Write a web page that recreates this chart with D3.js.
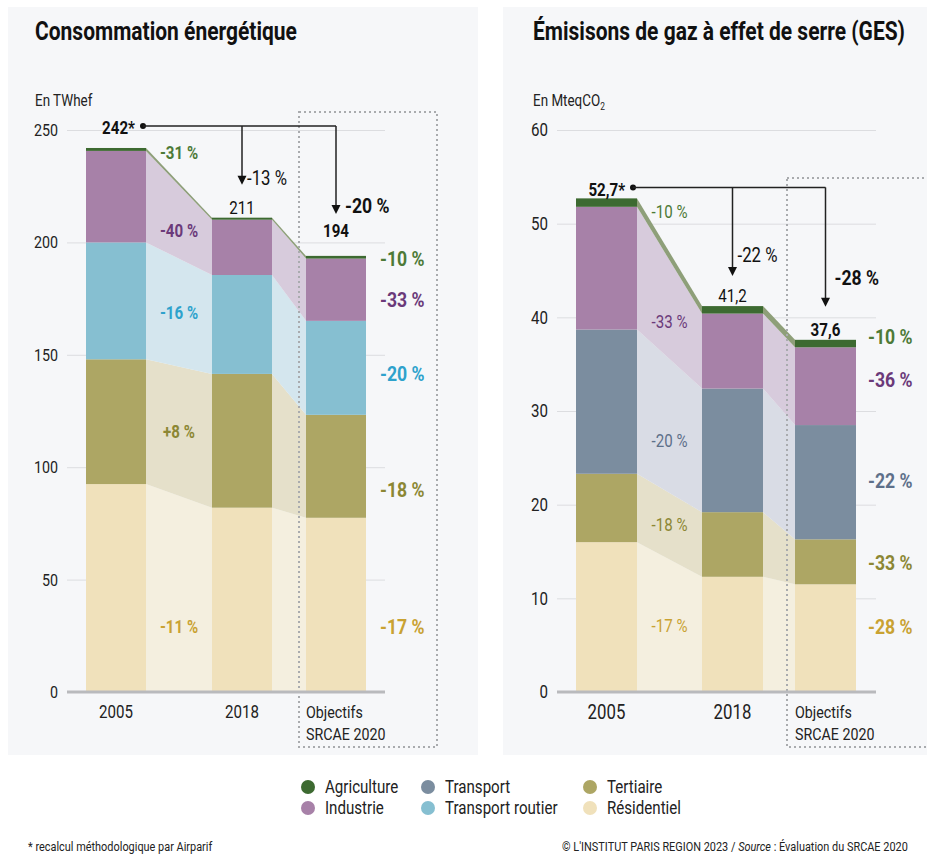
<!DOCTYPE html>
<html lang="fr">
<head>
<meta charset="utf-8">
<script src="https://cdn.jsdelivr.net/npm/d3@7"></script>
<style>
  body { margin: 0; background: #ffffff; }
  svg text { font-family: "Roboto", "Liberation Sans", sans-serif; }
</style>
</head>
<body>
<svg id="chart" width="927" height="856"></svg>
<script>
// ---- Data -------------------------------------------------------------
const periods = ["2005", "2018", "Objectifs SRCAE 2020"];

// Energy consumption (TWhef), stacked bottom-up
const energySectors = ["Résidentiel", "Tertiaire", "Transport routier", "Industrie", "Agriculture"];
const energyResidentiel      = [92.5, 82.0, 77.5];
const energyTertiaire        = [55.5, 59.5, 45.8];
const energyTransportRoutier = [52.0, 44.0, 41.8];
const energyIndustrie        = [40.7, 24.6, 27.7];
const energyAgriculture      = [1.3, 0.9, 1.2];
const energyTicks = [0, 50, 100, 150, 200, 250];
const energyShiftLabels  = ["-11 %", "+8 %", "-16 %", "-40 %", "-31 %"];
const energyTargetLabels = ["-17 %", "-18 %", "-20 %", "-33 %", "-10 %"];
const energyTotalChange  = ["-13 %", "-20 %"];

// Greenhouse gas emissions (MteqCO2), stacked bottom-up
const gesSectors = ["Résidentiel", "Tertiaire", "Transport", "Industrie", "Agriculture"];
const gesResidentiel = [16.0, 12.3, 11.5];
const gesTertiaire   = [7.3, 6.9, 4.8];
const gesTransport   = [15.4, 13.2, 12.2];
const gesIndustrie   = [13.1, 8.0, 8.3];
const gesAgriculture = [0.9, 0.8, 0.8];
const gesTicks = [0, 10, 20, 30, 40, 50, 60];
const gesShiftLabels  = ["-17 %", "-18 %", "-20 %", "-33 %", "-10 %"];
const gesTargetLabels = ["-28 %", "-33 %", "-22 %", "-36 %", "-10 %"];
const gesTotalChange  = ["-22 %", "-28 %"];

const legendItems = ["Agriculture", "Industrie", "Transport", "Transport routier", "Tertiaire", "Résidentiel"];

// ---- Styles -----------------------------------------------------------
const sectorColor = {
  "Agriculture": "#3d6a31",
  "Industrie": "#a781a8",
  "Transport": "#7b8d9f",
  "Transport routier": "#86bfd1",
  "Tertiaire": "#ada664",
  "Résidentiel": "#f0e1bb"
};
const bandColor = {
  "Agriculture": "#8e9f79",
  "Industrie": "#d7cbdc",
  "Transport": "#d9dce5",
  "Transport routier": "#d4e6ee",
  "Tertiaire": "#e5e0ca",
  "Résidentiel": "#f4efdf"
};
const labelColor = {
  "Agriculture": "#4d7a37",
  "Industrie": "#6b3a7a",
  "Transport": "#5e708a",
  "Transport routier": "#2ea2cc",
  "Tertiaire": "#8c8734",
  "Résidentiel": "#c9a232"
};
// horizontal squeeze giving the condensed lettering
const CONDENSE = 0.84;

const frNum = d3.formatLocale({ decimal: ",", thousands: " ", grouping: [3], currency: ["", " €"] });

const svg = d3.select("#chart");

// light panels behind each chart
svg.append("rect").attr("x", 8).attr("y", 7).attr("width", 470).attr("height", 748).attr("fill", "#f6f7f9");
svg.append("rect").attr("x", 503).attr("y", 7).attr("width", 424).attr("height", 748).attr("fill", "#f6f7f9");

function drawChart(cfg) {
  const g = svg.append("g");
  const y = d3.scaleLinear().domain([0, cfg.max]).range([692, 130]);
  const x = d3.scaleOrdinal().domain(periods).range(cfg.barX);
  const bw = cfg.barWidth;

  const rows = periods.map((p, i) => {
    const r = { period: p };
    cfg.sectors.forEach((s, j) => { r[s] = cfg.values[j][i]; });
    return r;
  });
  const layers = d3.stack().keys(cfg.sectors)(rows);

  // title and unit
  g.append("text").attr("x", cfg.left).attr("y", 40)
    .attr("font-size", cfg.titleSize).attr("font-weight", "bold").attr("fill", "#111").text(cfg.title);
  const unit = g.append("text").attr("x", cfg.left).attr("y", 106)
    .attr("font-size", 16).attr("fill", "#222").text(cfg.unit);
  if (cfg.unitSub) unit.append("tspan").attr("font-size", 10).attr("dy", 4).text(cfg.unitSub);

  // gridlines + tick labels
  const axis = g.append("g").attr("transform", `translate(${cfg.gridX0},0)`)
    .call(d3.axisLeft(y).tickValues(cfg.ticks).tickSize(-(cfg.gridX1 - cfg.gridX0)).tickPadding(9).tickFormat(d3.format("d")));
  axis.select(".domain").remove();
  axis.selectAll(".tick line").attr("stroke", "#dcdde0").attr("stroke-width", 1);
  axis.selectAll(".tick text").attr("font-size", cfg.tickSize).attr("fill", "#222");

  // connecting bands between consecutive bars
  const band = d3.area()
    .x(d => d.x)
    .y0(d => y(d.v0))
    .y1(d => y(d.v1));
  layers.forEach(layer => {
    for (let i = 0; i < periods.length - 1; i++) {
      const a = layer[i], b = layer[i + 1];
      g.append("path")
        .attr("d", band([
          { x: x(periods[i]) + bw, v0: a[0], v1: a[1] },
          { x: x(periods[i + 1]), v0: b[0], v1: b[1] }
        ]))
        .attr("fill", bandColor[layer.key]);
    }
  });

  // dotted frame around the target column
  g.append("rect")
    .attr("x", cfg.box[0]).attr("y", cfg.box[1]).attr("width", cfg.box[2]).attr("height", cfg.box[3])
    .attr("fill", "none").attr("stroke", "#a9abae").attr("stroke-width", 2).attr("stroke-dasharray", "2 3");

  // stacked bars
  layers.forEach(layer => {
    g.selectAll(null).data(layer).enter().append("rect")
      .attr("x", d => x(d.data.period))
      .attr("width", bw)
      .attr("y", d => y(d[1]))
      .attr("height", d => y(d[0]) - y(d[1]))
      .attr("fill", sectorColor[layer.key]);
  });

  // baseline
  g.append("line").attr("x1", cfg.gridX0).attr("x2", cfg.gridX1).attr("y1", y(0)).attr("y2", y(0))
    .attr("stroke", "#b9babd").attr("stroke-width", 3);

  // x labels
  periods.forEach((p, i) => {
    if (i < 2) {
      g.append("text").attr("x", x(p) + bw / 2).attr("y", 712).attr("dy", "0.35em")
        .attr("text-anchor", "middle").attr("font-size", cfg.xSize).attr("fill", "#222").text(p);
    } else {
      const t = g.append("text").attr("x", x(p)).attr("font-size", cfg.objSize).attr("fill", "#222");
      t.append("tspan").attr("x", x(p)).attr("y", 718).text("Objectifs");
      t.append("tspan").attr("x", x(p)).attr("y", 740).text("SRCAE 2020");
    }
  });

  // sector change labels in the 2005-2018 bands
  const midX = (x(periods[0]) + bw + x(periods[1])) / 2;
  layers.forEach((layer, j) => {
    const a = layer[0], b = layer[1];
    const ym = (y((a[0] + b[0]) / 2) + y((a[1] + b[1]) / 2)) / 2 + cfg.shiftNudge[j];
    g.append("text").attr("x", midX).attr("y", ym).attr("dy", "0.35em").attr("text-anchor", "middle")
      .attr("font-size", cfg.shiftSize).attr("font-weight", cfg.shiftWeight)
      .attr("fill", labelColor[layer.key]).text(cfg.shiftLabels[j]);
  });

  // sector change labels beside the target bar
  layers.forEach((layer, j) => {
    const c = layer[2];
    const ym = y((c[0] + c[1]) / 2) + cfg.targetNudge[j];
    g.append("text").attr("x", cfg.targetX).attr("y", ym).attr("dy", "0.35em")
      .attr("font-size", cfg.targetSize).attr("font-weight", "bold")
      .attr("fill", labelColor[layer.key]).text(cfg.targetLabels[j]);
  });

  // totals and overall change arrows
  const totals = rows.map(r => d3.sum(cfg.sectors, s => r[s]));
  const fmt = frNum.format(cfg.totalFormat);
  const c1 = x(periods[1]) + bw / 2, c2 = x(periods[2]) + bw / 2;
  const lineY = y(totals[0]) - cfg.lineGap;
  const dotX = cfg.dotX;

  g.append("text").attr("x", dotX - 8).attr("y", lineY + 2).attr("dy", "0.35em").attr("text-anchor", "end")
    .attr("font-size", 18).attr("font-weight", "bold").attr("fill", "#111").text(fmt(totals[0]) + "*");
  g.append("circle").attr("cx", dotX).attr("cy", lineY).attr("r", 3).attr("fill", "#111");
  g.append("path").attr("d", `M${dotX},${lineY}H${c2}`).attr("stroke", "#222").attr("stroke-width", 1.5).attr("fill", "none");

  [[c1, 1], [c2, 2]].forEach(([cx, i]) => {
    const tip = y(totals[i]) - cfg.tipGap[i - 1];
    g.append("path").attr("d", `M${cx},${lineY}V${tip - 8}`).attr("stroke", "#222").attr("stroke-width", 1.5).attr("fill", "none");
    g.append("path").attr("d", `M${cx - 4.5},${tip - 9}L${cx + 4.5},${tip - 9}L${cx},${tip}Z`).attr("fill", "#111");
    const bold = i === 2;
    g.append("text").attr("x", cx + (bold ? 9 : 5)).attr("y", tip + cfg.changeDy[i - 1]).attr("dy", "0.35em")
      .attr("font-size", bold ? 21 : 20).attr("font-weight", bold ? "bold" : "normal").attr("fill", "#111")
      .text(cfg.totalChange[i - 1]);
    g.append("text").attr("x", cx).attr("y", y(totals[i]) - cfg.totalGap[i - 1]).attr("dy", "0.35em")
      .attr("text-anchor", "middle").attr("font-size", 18).attr("font-weight", bold ? "bold" : "normal")
      .attr("fill", "#111").text(fmt(totals[i]));
  });
}

drawChart({
  title: "Consommation énergétique",
  titleSize: 25,
  unit: "En TWhef",
  left: 35,
  max: 250,
  ticks: energyTicks,
  sectors: energySectors,
  values: [energyResidentiel, energyTertiaire, energyTransportRoutier, energyIndustrie, energyAgriculture],
  barX: [86, 212, 306],
  barWidth: 60,
  gridX0: 67, gridX1: 385,
  box: [299, 112, 138, 635],
  tickSize: 17, xSize: 18, objSize: 17,
  shiftLabels: energyShiftLabels, shiftNudge: [33, 0, 0, 9, -31], shiftSize: 18, shiftWeight: "bold",
  targetLabels: energyTargetLabels, targetNudge: [22, 23, 6, 10, 1], targetX: 380, targetSize: 21,
  totalChange: energyTotalChange,
  totalFormat: ".0f",
  dotX: 143, lineGap: 22,
  tipGap: [33, 42], changeDy: [-7, -8], totalGap: [10, 25]
});

drawChart({
  title: "Émisisons de gaz à effet de serre (GES)",
  titleSize: 25,
  unit: "En MteqCO",
  unitSub: "2",
  left: 533,
  max: 60,
  ticks: gesTicks,
  sectors: gesSectors,
  values: [gesResidentiel, gesTertiaire, gesTransport, gesIndustrie, gesAgriculture],
  barX: [576, 702, 795],
  barWidth: 61,
  gridX0: 557, gridX1: 876,
  box: [787, 178, 150, 569],
  tickSize: 18, xSize: 20, objSize: 17,
  shiftLabels: gesShiftLabels, shiftNudge: [0, -2, 15, 12, -45], shiftSize: 18, shiftWeight: "normal",
  targetLabels: gesTargetLabels, targetNudge: [-11, 1, -2, -7, -7], targetX: 868, targetSize: 21,
  totalChange: gesTotalChange,
  totalFormat: ".1f",
  dotX: 633, lineGap: 11,
  tipGap: [30, 33], changeDy: [-21, -29], totalGap: [10, 10]
});

// legend
const legendPos = [[308, 787], [308, 808], [428, 787], [428, 808], [590, 787], [590, 808]];
const legend = svg.append("g");
legendItems.forEach((name, i) => {
  legend.append("circle").attr("cx", legendPos[i][0]).attr("cy", legendPos[i][1]).attr("r", 7).attr("fill", sectorColor[name]);
  legend.append("text").attr("x", legendPos[i][0] + 17).attr("y", legendPos[i][1]).attr("dy", "0.35em")
    .attr("font-size", 18).attr("fill", "#222").text(name);
});

// footer
svg.append("text").attr("x", 28).attr("y", 851).attr("font-size", 13).attr("fill", "#222")
  .text("* recalcul méthodologique par Airparif");
const src = svg.append("text").attr("x", 562).attr("y", 851).attr("font-size", 13).attr("fill", "#222");
src.append("tspan").text("© L'INSTITUT PARIS REGION 2023 / ");
src.append("tspan").attr("font-style", "italic").text("Source");
src.append("tspan").text(" : Évaluation du SRCAE 2020");

// squeeze every label horizontally about its anchor x
svg.selectAll("text").each(function () {
  const X = +this.getAttribute("x") || 0;
  this.setAttribute("transform", `translate(${X * (1 - CONDENSE)},0) scale(${CONDENSE},1)`);
});
</script>
</body>
</html>
